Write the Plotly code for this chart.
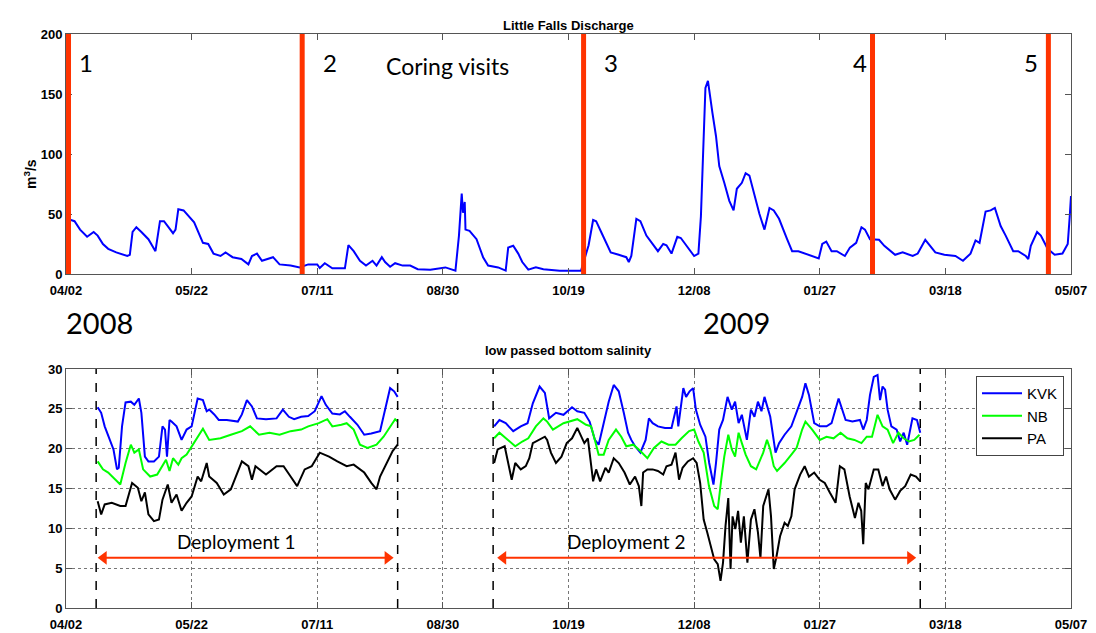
import pandas as pd
import plotly.graph_objects as go
from plotly.subplots import make_subplots

START = pd.Timestamp("2008-04-02")
END = pd.Timestamp("2009-05-07")

# Little Falls discharge (m3/s): days since 2008-04-02, value
q_day = [0.5, 2, 3.4, 5.6, 8.4, 11, 12.6, 14.7, 16.8, 20, 24.4, 25.4, 26.5, 28, 30, 32.8, 35.6, 37.4, 39,
         40.5, 42.6, 43.6, 44.7, 46.8, 48.9, 51, 54.5, 56.6, 58.7, 61.5, 63.5, 66.3, 69.8, 72.6, 74, 76, 78,
         82.4, 85, 89.4, 93, 96.4, 100, 101, 103, 106, 111, 112.4, 114.5, 117, 119.4, 122, 123.6, 125.7, 127,
         129, 131, 134, 137, 140, 145, 150, 151, 155, 156.4, 157.5, 158, 158.7, 159, 160.6, 163.4, 166, 168,
         172, 175, 176, 178, 180, 181.6, 184, 187, 190, 192, 196.5, 205, 207, 208, 209.8, 211, 213, 216.8,
         220, 223, 224, 225, 227, 228.6, 231, 235.6, 237.7, 239, 241, 243.3, 244.7, 248, 250, 251.7, 252.7,
         253.5, 254.5, 255.5, 256.3, 257.3, 258.7, 260, 262, 264, 265.7, 267, 269, 270.5, 272, 274, 276, 278,
         280, 281.7, 283.8, 287, 289, 291.5, 294, 297, 299.6, 301, 302.6, 304.7, 306.8, 310, 312, 314.5,
         316.6, 318, 320, 323.6, 325.7, 330, 333, 337, 339, 342, 343, 346, 349.6, 354, 357, 360, 362, 363.6,
         366, 368, 369.7, 372, 374, 377, 379, 382, 383, 384, 386.5, 388, 390.7, 393.5, 396.6, 398.7, 399.5,
         400]
q_val = [45, 45, 44, 37, 31, 35, 32, 25, 21, 18, 15, 16, 35, 39, 35, 29, 19, 44, 44,
         40, 34, 37, 54, 53, 48, 43, 26, 25, 17, 15, 18, 14, 12.5, 8, 15, 17, 11,
         14, 8, 7, 5.5, 8, 8, 5, 9, 4.7, 4.7, 24, 19, 11, 7, 11, 7, 14, 10,
         6, 9, 7, 7, 4, 3.6, 4.7, 5.5, 2.8, 32, 67, 51, 60, 37, 36, 29, 14, 7,
         5.5, 2.8, 22, 23.5, 17, 10, 3.6, 5.5, 4, 3.6, 2.8, 2.8, 17, 24, 45, 44, 35, 18,
         16, 14, 10, 15, 46, 44, 32, 19, 25, 24, 17, 31, 30, 21, 15, 17, 48,
         96, 155, 161, 148, 134, 115, 90, 76, 61, 53, 71, 76, 84, 82, 65, 50, 37,
         55, 53, 46, 29, 19, 19, 17, 15, 13, 25, 27, 19, 19, 15, 22, 26,
         39, 37, 29, 28.5, 23.5, 16, 18, 15, 17, 28.5, 26, 18, 16, 15, 11, 17, 28, 26,
         52, 53, 55, 40, 32, 19, 19, 15, 12.5, 23.5, 35, 32, 21, 16, 17, 25, 48,
         65]

# Coring visit dates and labels
visit_dates = ["2008-04-03", "2008-07-05", "2008-10-25", "2009-02-17", "2009-04-28"]
visit_labels = ["1", "2", "3", "4", "5"]
visit_label_dates = ["2008-04-10", "2008-07-16", "2008-11-05", "2009-02-12", "2009-04-21"]

# Low passed bottom salinity, deployment 1 and 2 (days since 2008-04-02)
kvk_day = [12.6, 14, 15.4, 17.5, 18.9, 20.3, 21, 22.3, 23.7, 25.8, 27.2, 29, 30, 31.4, 32.8, 35, 37, 38.4,
           39.4, 40.2, 41.2, 42, 44, 46, 48, 50, 52.4, 54.5, 56, 57, 59, 60.8, 64, 68.4, 70, 72, 74, 76,
           79.6, 83.8, 86.3, 88.7, 90.8, 93.6, 96.4, 99, 101.7, 103.4, 106, 109, 111, 113, 116, 118.7,
           121.5, 125, 127, 129, 130.6, 132,
           None,
           170.4, 172.5, 175, 178, 181, 183.7, 185.8, 188.5, 190.6, 191.5, 192.3, 195, 198, 201.4, 203.5,
           206.3, 208.4, 210.5, 212, 214, 216, 218, 220, 222, 223.7, 225, 226.5, 228.6, 230.7, 232, 233.5,
           235.6, 238.4, 241, 243, 243.7, 244.7, 245.7, 246.8, 248.2, 249.6, 250.7, 252.4, 254.5, 256,
           257.7, 258.7, 260, 261.5, 263.3, 265, 266.3, 267.7, 269, 271, 272.6, 274, 275.4, 276.8, 278,
           280.3, 282.4, 283.8, 286, 288.7, 290.8, 293, 294.3, 295.7, 297.8, 300, 302.7, 304.7, 307.5, 309,
           310.3, 313, 316, 317.3, 318.7, 320, 321.5, 323, 324, 325, 326, 327, 328.5, 330.6, 332, 333.4,
           334.8, 336.9, 338.7, 340]
kvk_val = [25.2, 24.5, 22.8, 21.1, 19.9, 17.4, 17.6, 22.8, 25.8, 25.9, 25.5, 26.3, 24.5, 19, 18.4, 18.4, 19, 22.8,
           22.4, 19, 23.6, 23.4, 22.8, 21.1, 22.4, 22.8, 26.3, 26.1, 24.7, 24.9, 24.3, 23.6, 23.6, 23.4, 24.3, 26.1, 25.3, 23.8,
           23.7, 23.8, 24.9, 24, 23.7, 24, 24.1, 24.7, 26.6, 25.5, 24.4, 24.3, 24.7, 24, 23, 21.75,
           21.9, 22.2, 24.9, 27.6, 27.2, 26.5,
           None,
           22.8, 23.6, 23.2, 22.2, 22.8, 23.2, 25.7, 27.8, 27, 25.5, 23.8, 24.5, 24.25, 25.2, 24.7,
           24.5, 23.4, 21.1, 20.5, 23.2, 25.9, 28, 27.2, 24.5, 22, 21.1, 20.3, 19.5, 21.1, 23.8, 23.2,
           22.8, 22.6, 22.6, 25.3, 22.8, 25.3, 27.6, 26.5, 27.2, 27.6, 24.9, 23, 21.5, 18.2,
           15.5, 18.2, 22.4, 23.6, 26.5, 24.9, 25.9, 23.2, 24.25, 21.1, 24.9, 24, 25.9, 24.7, 26.5,
           24, 19.5, 20.7, 21.75, 22.8, 24.5, 26.5, 28.2, 26.75, 23.2, 22.8, 22.8, 23.2, 26.3, 24.9,
           23.6, 23.4, 23.6, 22.4, 23.6, 26.75, 29, 29.25, 26.1, 27.8, 27.4, 24.9, 22.8, 22.4, 20.9, 22,
           20.5, 23.8, 23.6, 22]

nb_day = [12.6, 14.7, 16.8, 18.9, 21.6, 23.7, 25.8, 27.2, 29, 30.7, 33.5, 36.3, 38.4, 39.8, 41.2, 42.6, 44.7,
          46, 48, 50, 52.4, 54.5, 57, 61.5, 65.6, 70, 73.3, 76.8, 81, 85, 89.4, 93.6, 96.4, 100.6, 104, 106,
          109.6, 111.7, 114.5, 117, 120, 123.6, 126.4, 129, 131, 132,
          None,
          170.4, 172.5, 175.9, 178.8, 181.6, 184, 187, 190, 191.5, 193.8, 198, 203.5, 207, 209, 210.5, 212,
          214, 216, 218.9, 221, 223, 225.8, 228.6, 231.4, 234, 237, 239.8, 242.6, 245, 248, 250, 251.7,
          253.8, 255.9, 258, 259.4, 260.8, 262, 263.6, 265, 266.3, 267.7, 269, 270.5, 272.6, 274.7, 277.5,
          279, 280.3, 281.7, 283, 286, 288.7, 290.8, 293, 294.3, 297, 300, 302.7, 305.5, 308.3, 311, 313.8,
          316.6, 318.7, 320.8, 323, 325, 327, 329.2, 331.3, 333.4, 335.5, 337.6, 339.7]
nb_val = [18.4, 17.4, 17, 16.3, 15.5, 18.2, 20.5, 19.5, 19.9, 17.4, 16.5, 16.75, 17.8, 18.6, 17.2, 18.8, 18,
          18.8, 19.25, 20.3, 21.5, 22.5, 21.1, 21.3, 21.75, 22.2, 22.8, 21.75, 22, 21.75, 22.2, 22.4, 22.8, 23.2, 23.7, 22.8,
          23, 23.2, 22.4, 20.5, 20.1, 20.5, 21.5, 22.8, 23.7, 23.4,
          None,
          21.3, 22, 21.1, 20.3, 20.9, 21.3, 22.8, 23.8, 23.4, 22.4, 23.2, 23.7, 23, 22.8, 21.1, 19.25,
          19.25, 21.1, 22.4, 21.5, 20.3, 20.5, 19.7, 18.8, 20.1, 20.9, 20.5, 20.5, 21.3, 22.2, 22.4, 20.9,
          19.5, 15.3, 12.8, 12.4, 16.1, 19, 21.75, 19.9, 19, 22, 20.7, 19.25, 17.8, 17.4, 19.5,
          21.1, 19.9, 17.8, 17.2, 18.2, 19.25, 20.1, 22.4, 23.4, 22.4, 21.1, 21.5, 21.3, 22, 21.3, 21.1,
          20.7, 21.5, 21.5, 24.25, 22.8, 22.4, 20.7, 22, 21.3, 20.9, 21.1, 21.75]

pa_day = [12.6, 14, 15.4, 18.2, 21.6, 23.7, 26.3, 28.6, 30, 31.4, 32.8, 35, 37, 38.4, 40.5, 42, 44, 46, 48,
          50, 52.4, 53.8, 56, 57, 60, 62.8, 65.6, 70, 72.6, 74, 75.4, 79.6, 83.8, 86.6, 89.4, 92, 95, 97.8,
          101, 104.7, 108, 111.7, 114.5, 118.7, 121.5, 123.6, 125, 127, 130, 132,
          None,
          170.4, 171.8, 174.6, 176, 177.4, 178.8, 181, 183, 184.4, 185.8, 188.5, 190.6, 191.5, 193, 195,
          197.2, 199.3, 201.4, 203.5, 205, 206.3, 207.7, 209, 209.8, 211, 212.6, 214.7, 216, 218, 220, 222.3,
          224.4, 226.5, 228, 229, 229.7, 231.4, 233.5, 235.6, 237.7, 239, 241, 242.6, 244, 245.4, 247.5,
          249.6, 251, 252.4, 253.8, 255.2, 256.6, 258, 259.4, 260.5, 261.5, 262.5, 263.6, 264.5, 265.3,
          266.4, 267.5, 268.6, 269.8, 271.2, 272.6, 274, 275.4, 276.4, 277.5, 279.6, 280.6, 281.7, 282.8,
          284.2, 286, 287.3, 288.7, 290, 292.2, 294, 295.7, 297.8, 300, 302, 304, 306.3, 308, 309.8, 311.9,
          314, 315.4, 316.5, 317.3, 318.3, 319.4, 321.5, 323.3, 325, 326.4, 327.8, 330, 332, 334, 336.2,
          338.3, 340]
pa_val = [13.4, 11.75, 13, 13.2, 12.8, 12.8, 15.7, 15.1, 13.4, 14.5, 11.75, 10.9, 11.1, 13.6, 15.5, 13.2, 14.25, 12.2, 13.2,
          14, 16.5, 15.9, 18.2, 16.5, 15.7, 14.25, 14.9, 18.4, 17.8, 16.1, 17.8, 16.75, 17.8, 17.8, 16.5, 15.3, 17.4, 17.8,
          19.5, 19, 18.4, 17.8, 18, 17, 15.7, 14.9, 16.5, 17.8, 19.7, 20.5,
          None,
          18.2, 19.9, 20.3, 18.2, 16.1, 18.2, 17.4, 17.8, 18.8, 20.7, 21.1, 21.5, 21.1, 19.5, 18.2,
          19, 20.7, 21.3, 22.6, 21.5, 20.7, 21.3, 18.2, 15.9, 17.4, 15.9, 17.6, 17, 18.8, 18.2, 17,
          15.5, 16.5, 15.3, 12.8, 17, 17.4, 17.4, 17.2, 16.75, 17.8, 18, 19.5, 16.1, 17.6, 18.4,
          18.8, 18.2, 15.7, 11.1, 9.5, 7.8, 6.1, 5.5, 3.4, 5.7, 10.3, 13.8, 4.9, 11.5,
          9.9, 12.2, 8.2, 11.5, 5.7, 11.1, 12.4, 9.5, 6.3, 12.8, 14.9, 11.5, 4.9, 6.5,
          9, 10.7, 10.3, 11.5, 14.9, 16.75, 17.8, 16.5, 17, 16.1, 15.7, 14.5, 13.2, 17.8, 17.4, 14,
          11.3, 13.2, 12.2, 8, 15.7, 14.9, 17.4, 17.4, 15.3, 16.5, 14.9, 13.6, 14.7, 15.3, 16.75,
          16.5, 15.9]

# Deployment periods, double-arrow extents and label positions
deploy_bounds = [("2008-04-14", "2008-08-12"), ("2008-09-19", "2009-03-08")]
deploy_arrows = [("2008-04-17", "2008-08-08"), ("2008-09-23", "2009-03-04")]
deploy_labels = ["Deployment 1", "Deployment 2"]
deploy_label_dates = ["2008-06-09", "2008-11-11"]
ARROW_LEVEL = 6.3

tick_dates = pd.date_range(START, END, freq="50D")
tick_labels = ["04/02", "05/22", "07/11", "08/30", "10/19", "12/08", "01/27", "03/18", "05/07"]


def to_dates(days):
    return [None if d is None else START + pd.Timedelta(days=d) for d in days]


RED = "#FF3300"
AX = "#555555"
GRID = "#777777"
TICKFONT = dict(family="Liberation Sans, Arial", size=13, color="black", weight="bold")
NOTEFONT = "Lato, Open Sans, sans-serif"

fig = make_subplots(rows=2, cols=1)

fig.add_trace(go.Scatter(x=to_dates(q_day), y=q_val, mode="lines",
                         line=dict(color="#0000FF", width=2), showlegend=False), row=1, col=1)

for name, d, v, c in [("KVK", kvk_day, kvk_val, "#0000FF"),
                      ("NB", nb_day, nb_val, "#00FF00"),
                      ("PA", pa_day, pa_val, "#000000")]:
    fig.add_trace(go.Scatter(x=to_dates(d), y=v, mode="lines", name=name,
                             line=dict(color=c, width=2), connectgaps=False), row=2, col=1)

# Double-headed deployment arrows (line with triangle heads)
for aa, bb in deploy_arrows:
    fig.add_trace(go.Scatter(x=[aa, bb], y=[ARROW_LEVEL, ARROW_LEVEL], mode="lines+markers",
                             line=dict(color=RED, width=2),
                             marker=dict(symbol=["triangle-left", "triangle-right"], size=12, color=RED),
                             showlegend=False, hoverinfo="skip"), row=2, col=1)

xdom = [66 / 1096, 1071 / 1096]
common_x = dict(range=[START, END], tickvals=list(tick_dates), ticktext=tick_labels,
                showline=True, linecolor=AX, linewidth=1, mirror="ticks", automargin=False,
                ticks="inside", ticklen=6, tickcolor=AX, tickfont=TICKFONT, domain=xdom,
                ticklabelstandoff=4)
fig.update_xaxes(**common_x, showgrid=False, row=1, col=1)
fig.update_xaxes(**common_x, showgrid=True, gridcolor=GRID, griddash="dot", gridwidth=1, row=2, col=1)

fig.update_yaxes(range=[0, 200], tickvals=[0, 50, 100, 150, 200], showgrid=False,
                 showline=True, linecolor=AX, linewidth=1, mirror="ticks", ticks="inside",
                 ticklen=6, tickcolor=AX, tickfont=TICKFONT, zeroline=False, automargin=False,
                 domain=[1 - 274 / 633, 1 - 34 / 633], row=1, col=1)
fig.update_yaxes(range=[0, 30], tickvals=[0, 5, 10, 15, 20, 25, 30], showgrid=True,
                 gridcolor=GRID, griddash="dot", gridwidth=1,
                 showline=True, linecolor=AX, linewidth=1, mirror="ticks", ticks="inside",
                 ticklen=6, tickcolor=AX, tickfont=TICKFONT, zeroline=False, automargin=False,
                 domain=[1 - 608 / 633, 1 - 369 / 633], row=2, col=1)

# Coring visits
for d, lab, ld in zip(visit_dates, visit_labels, visit_label_dates):
    fig.add_shape(type="line", x0=d, x1=d, y0=0, y1=1, xref="x", yref="y domain",
                  line=dict(color=RED, width=5))
    fig.add_annotation(x=ld, y=176, xref="x", yref="y", text=lab, showarrow=False,
                       font=dict(family=NOTEFONT, size=24, color="black"))
fig.add_annotation(x="2008-09-01", y=173, xref="x", yref="y", text="Coring visits", showarrow=False,
                   font=dict(family=NOTEFONT, size=23, color="black"))

# Deployment boundaries and labels
for (a, b), lab, ld in zip(deploy_bounds, deploy_labels, deploy_label_dates):
    for d in (a, b):
        fig.add_shape(type="line", x0=d, x1=d, y0=0, y1=1, xref="x2", yref="y2 domain",
                      line=dict(color="black", width=1.5, dash="dash"))
    fig.add_annotation(x=ld, y=8.3, xref="x2", yref="y2", text=lab, showarrow=False,
                       font=dict(family=NOTEFONT, size=19, color="black"))

# Titles and labels
fig.add_annotation(x=568 / 1096, y=1 - 16 / 633, xref="paper", yref="paper",
                   text="Little Falls Discharge", showarrow=False,
                   font=dict(family="Liberation Sans, Arial", size=13, color="black", weight="bold"))
fig.add_annotation(x=568 / 1096, y=1 - 351 / 633, xref="paper", yref="paper",
                   text="low passed bottom salinity", showarrow=False,
                   font=dict(family="Liberation Sans, Arial", size=13, color="black", weight="bold"))
fig.add_annotation(x=19 / 1096, y=1 - 157 / 633, xref="paper", yref="paper",
                   text="m<sup>3</sup>/s", textangle=-90, showarrow=False,
                   font=dict(family="Liberation Sans, Arial", size=14, color="black", weight="bold"))
fig.add_annotation(x=64 / 1096, y=1 - 322 / 633, xref="paper", yref="paper", text="2008",
                   showarrow=False, font=dict(family=NOTEFONT, size=29, color="black"))
fig.add_annotation(x=772 / 1096, y=1 - 322 / 633, xref="paper", yref="paper", text="2009",
                   showarrow=False, font=dict(family=NOTEFONT, size=29, color="black"))

fig.update_layout(
    width=1096, height=633,
    margin=dict(l=0, r=0, t=0, b=0, autoexpand=False),
    paper_bgcolor="white", plot_bgcolor="white",
    legend=dict(x=1064 / 1096, y=1 - 376 / 633, xanchor="right", yanchor="top",
                bgcolor="white", bordercolor="#444444", borderwidth=1,
                font=dict(family="Liberation Sans, Arial", size=15, color="black"),
                tracegroupgap=0, itemwidth=40),
)

fig.write_html("out.html")
